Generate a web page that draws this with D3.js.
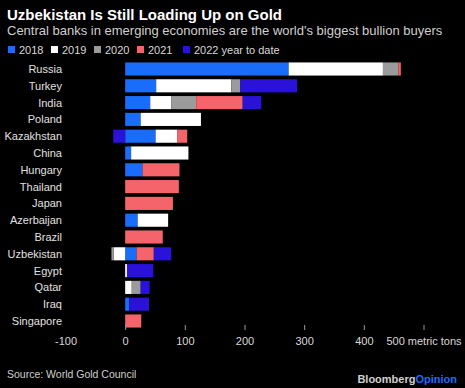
<!DOCTYPE html>
<html>
<head>
<meta charset="utf-8">
<script src="https://cdn.jsdelivr.net/npm/d3@7"></script>
<style>
  body { margin: 0; background: #000; }
  svg { display: block; font-family: "Liberation Sans", Arial, sans-serif; }
</style>
</head>
<body>
<div id="chart"></div>
<script>
// Chart data (metric tons)
const countries = ["Russia", "Turkey", "India", "Poland", "Kazakhstan", "China", "Hungary",
  "Thailand", "Japan", "Azerbaijan", "Brazil", "Uzbekistan", "Egypt", "Qatar", "Iraq", "Singapore"];
const years = ["2018", "2019", "2020", "2021", "2022 year to date"];
const v2018 = [274, 52, 42, 26, 51, 10, 29, 0, 0, 21, 0, 19, 0, 0, 7, 0];
const v2019 = [158, 126, 35, 101, 36, 96, 0, 0, 0, 51, 0, -19, 3, 11, 0, 0];
const v2020 = [26, 15, 42, 0, 0, 0, 0, 0, 0, 0, 0, -4, 0, 15, 0, 0];
const v2021 = [4, 0, 78, 0, 17, 0, 62, 90, 80, 0, 63, 29, 0, 0, 0, 27];
const v2022 = [0, 95, 31, 0, -20, 0, 0, 0, 0, 0, 0, 29, 44, 15, 33, 0];
const tickValues = [-100, 0, 100, 200, 300, 400, 500];

const colors = ["#1a6cfb", "#ffffff", "#9b9b9b", "#f5646a", "#2a12d8"];

const W = 465, H = 388;
const svg = d3.select("#chart").append("svg").attr("width", W).attr("height", H);
svg.append("rect").attr("width", W).attr("height", H).attr("fill", "#000");

// Title and subtitle
svg.append("text").attr("x", 7).attr("y", 20)
  .attr("fill", "#fff").style("font-size", "15px").style("font-weight", "bold")
  .text("Uzbekistan Is Still Loading Up on Gold");
svg.append("text").attr("x", 7).attr("y", 35)
  .attr("fill", "#cfcfcf").style("font-size", "13px")
  .text("Central banks in emerging economies are the world's biggest bullion buyers");

// Legend
const legendX = [8, 51, 94, 137, 183];
years.forEach((y, i) => {
  svg.append("rect").attr("x", legendX[i]).attr("y", 46).attr("width", 7).attr("height", 7)
    .attr("fill", colors[i]);
  svg.append("text").attr("x", legendX[i] + 11).attr("y", 53.5)
    .attr("fill", "#d8d8d8").style("font-size", "11px").text(y);
});

// Build table for stacking
const table = countries.map((c, i) => ({
  country: c,
  [years[0]]: v2018[i], [years[1]]: v2019[i], [years[2]]: v2020[i],
  [years[3]]: v2021[i], [years[4]]: v2022[i]
}));
const series = d3.stack().keys(years).offset(d3.stackOffsetDiverging)(table);

const x = d3.scaleLinear().domain([-100, 500]).range([65.5, 423.5]);
const y = d3.scaleBand().domain(countries).range([60.6, 329.4])
  .paddingInner(0.22).paddingOuter(0.11);

// Bars
svg.append("g").selectAll("g")
  .data(series)
  .join("g")
  .attr("fill", (d, i) => colors[i])
  .selectAll("rect")
  .data(d => d)
  .join("rect")
  .attr("x", d => x(Math.min(d[0], d[1])))
  .attr("y", d => y(d.data.country))
  .attr("width", d => Math.abs(x(d[1]) - x(d[0])))
  .attr("height", y.bandwidth());

// Country labels
svg.append("g").selectAll("text")
  .data(countries)
  .join("text")
  .attr("x", 62)
  .attr("y", d => y(d) + y.bandwidth() / 2 + 4)
  .attr("text-anchor", "end")
  .attr("fill", "#e0e0e0")
  .style("font-size", "11px")
  .text(d => d);

// X axis
const axis = svg.append("g")
  .attr("transform", "translate(0,325)")
  .call(d3.axisBottom(x).tickValues(tickValues).tickSize(5).tickPadding(7)
    .tickFormat(d => d === 500 ? "500 metric tons" : d));
axis.select(".domain").remove();
axis.selectAll(".tick line").attr("stroke", "#999")
  .attr("opacity", d => d === -100 ? 0 : 1);
axis.selectAll(".tick text").attr("fill", "#d8d8d8")
  .style("font-size", "11px").style("font-family", "Liberation Sans, Arial, sans-serif");

// Footer
svg.append("text").attr("x", 7).attr("y", 378)
  .attr("fill", "#cfcfcf").style("font-size", "10.5px")
  .text("Source: World Gold Council");
const brand = svg.append("text").attr("x", 457).attr("y", 383)
  .attr("text-anchor", "end").style("font-size", "11px").style("font-weight", "bold");
brand.append("tspan").attr("fill", "#d0d0d0").text("Bloomberg");
brand.append("tspan").attr("fill", "#1a6cfb").text("Opinion");
</script>
</body>
</html>
